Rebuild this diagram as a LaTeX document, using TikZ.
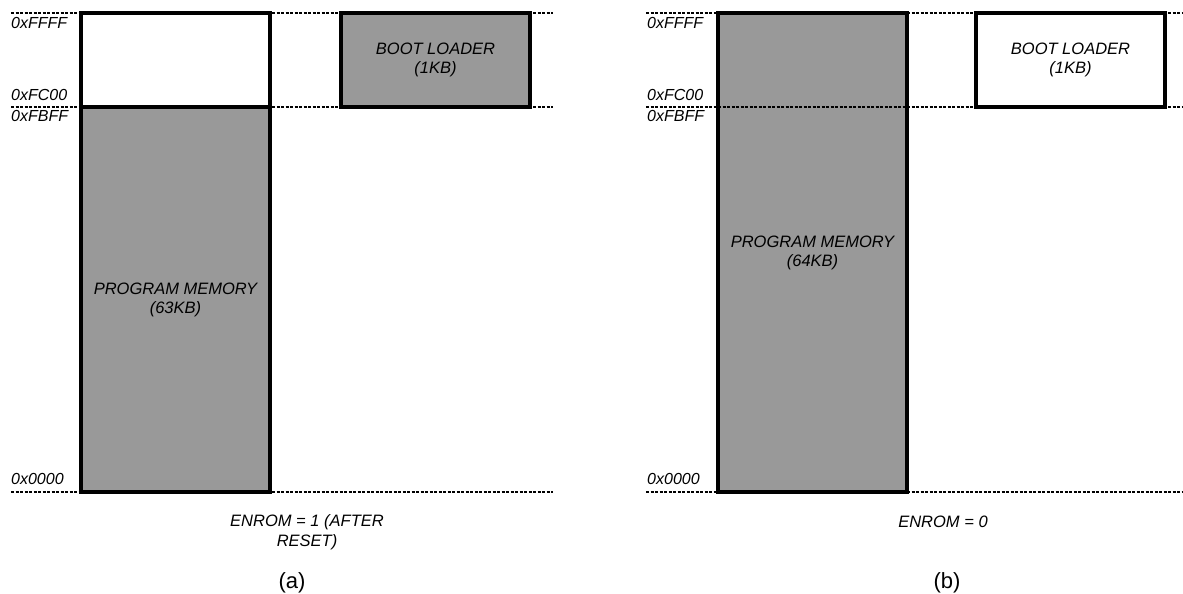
\documentclass[tikz,border=0pt]{standalone}
\usepackage{fontspec}
\setmainfont{Liberation Sans}
\usetikzlibrary{positioning}

\begin{document}
\begin{tikzpicture}[
    x=1pt, y=-1pt,
    mem/.style={rectangle, draw=black, line width=3.5pt, inner sep=0pt, outer sep=0pt, minimum width=189pt, align=center, anchor=north west, font=\fontsize{16.5}{19}\selectfont\itshape},
    used/.style={mem, fill=black!40},
    free/.style={mem, fill=white},
    guide/.style={draw=black, line width=2.8pt, dash pattern=on 3pt off 1.5pt},
    addr/.style={anchor=west, inner sep=0pt, font=\fontsize{16}{19}\selectfont\itshape},
    note/.style={align=center, inner sep=0pt, font=\fontsize{16.5}{20}\selectfont\itshape},
    tag/.style={inner sep=0pt, font=\fontsize{22}{25}\selectfont}
]
    \useasboundingbox (0,0) rectangle (1183,594);

    % (a) ENROM = 1
    \node [free, minimum height=94pt] (top1) at (81,13) {};
    \node [used, minimum height=385pt] (pm1) at (81,107) {PROGRAM MEMORY\\(63KB)};
    \node [used, minimum height=94pt] (bl1) at (341,13) {BOOT LOADER\\(1KB)};

    % (b) ENROM = 0
    \node [used, minimum height=479pt] (pm2) at (718,13) {PROGRAM MEMORY\\(64KB)};
    \node [free, minimum height=94pt] (bl2) at (976,13) {BOOT LOADER\\(1KB)};

    % address lines
    \foreach \y in {13,107,492} {
        \draw [guide] (11,\y) -- (553,\y);
        \draw [guide] (646,\y) -- (1183,\y);
    }

    % address labels
    \foreach \x/\p in {11/l, 647/r} {
        \node [addr] (ffff\p) at (\x,23) {0xFFFF};
        \node [addr] (fc00\p) at (\x,95) {0xFC00};
        \node [addr] (fbff\p) at (\x,116) {0xFBFF};
        \node [addr] (zero\p) at (\x,479) {0x0000};
    }

    \node [note] (en1) at (307,532) {ENROM = 1 (AFTER\\RESET)};
    \node [note] (en2) at (943,522) {ENROM = 0};
    \node [tag] (ta) at (292,583) {(a)};
    \node [tag] (tb) at (947,583) {(b)};
\end{tikzpicture}
\end{document}
